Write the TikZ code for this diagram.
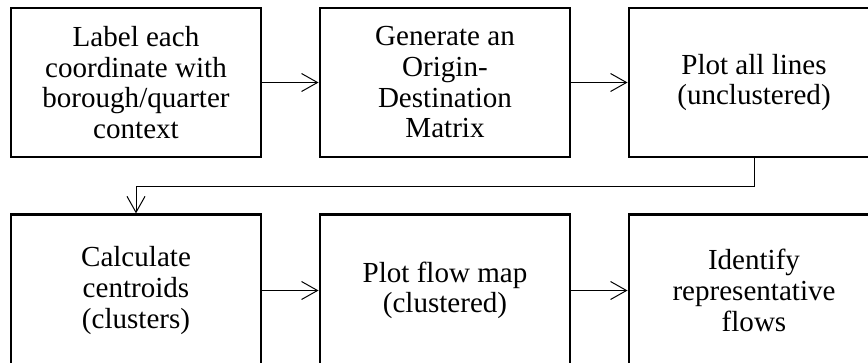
\documentclass[tikz,border=0pt]{standalone}
\usepackage{fontspec}
\setmainfont{Liberation Serif}
\usetikzlibrary{arrows.meta,calc}
\begin{document}
\begin{tikzpicture}[x=0.75pt,y=-0.75pt,
  stepbox/.style={draw, line width=1.7pt, minimum width=188pt, minimum height=111.5pt,
    align=center, inner sep=0pt, font=\fontsize{21.8pt}{23pt}\selectfont},
  lowbox/.style={stepbox, minimum height=114pt},
  arr/.style={line width=0.75pt, -{Straight Barb[length=12pt,width=13.5pt,line width=0.75pt]}}]
\useasboundingbox (0,0) rectangle (868,362);
\node[stepbox] (b1) at (136,82.5) {Label each\\coordinate with\\borough/quarter\\context};
\node[stepbox] (b2) at (445,82.5) {Generate an\\Origin-\\Destination\\Matrix};
\node[stepbox] (b3) at (754,82.5) {Plot all lines\\(unclustered)};
\node[lowbox] (b4) at (136,290.5) {Calculate\\centroids\\(clusters)};
\node[lowbox] (b5) at (445,290.5) {Plot flow map\\(clustered)};
\node[lowbox] (b6) at (754,290.5) {Identify\\representative\\flows};
\coordinate (m) at (0,186);
\draw[arr] (b1) -- (b2);
\draw[arr] (b2) -- (b3);
\draw[arr] (b3.south) -- (b3.south |- m) -| (b4.north);
\draw[arr] (b4) -- (b5);
\draw[arr] (b5) -- (b6);
\end{tikzpicture}
\end{document}
